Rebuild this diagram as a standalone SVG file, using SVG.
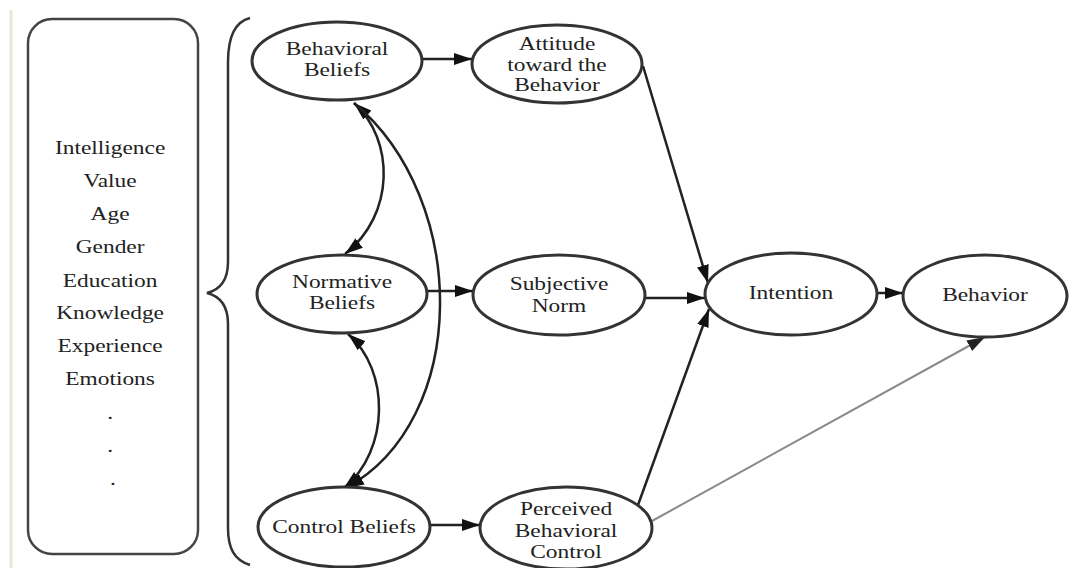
<svg xmlns="http://www.w3.org/2000/svg" width="1070" height="568" viewBox="0 0 1070 568">
  <style>
    .t { font-family: "Liberation Serif", "DejaVu Serif", serif; font-size: 18px; fill: #222; text-anchor: middle; }
    .node { fill: #fff; stroke: #333; stroke-width: 3; }
    .edge { fill: none; stroke: #222; stroke-width: 2.5; }
    .edge-gray { fill: none; stroke: #8a8a8a; stroke-width: 2; }
    .frame { fill: #fff; stroke: #444; stroke-width: 2.5; }
  </style>
  <defs>
    <marker id="arrow" markerUnits="userSpaceOnUse" markerWidth="20" markerHeight="14" refX="18" refY="7" orient="auto-start-reverse" viewBox="0 0 20 14">
      <path d="M0,1 L18,7 L0,13 Z" fill="#111"/>
    </marker>
    <marker id="arrow-gray" markerUnits="userSpaceOnUse" markerWidth="20" markerHeight="14" refX="18" refY="7" orient="auto" viewBox="0 0 20 14">
      <path d="M0,1 L18,7 L0,13 Z" fill="#222"/>
    </marker>
  </defs>

  <rect width="1070" height="568" fill="#fff"/>
  <!-- page margin rule -->
  <line x1="11" y1="10" x2="11" y2="568" stroke="#ebe6d6" stroke-width="3"/>

  <!-- background factors panel -->
  <g id="background-factors">
    <rect class="frame" x="28" y="19" width="170" height="535" rx="24" ry="24"/>
    <text class="t" transform="translate(113,0) scale(1.3,1)">
      <tspan x="0" y="154">Intelligence</tspan>
      <tspan x="0" y="187">Value</tspan>
      <tspan x="0" y="220">Age</tspan>
      <tspan x="0" y="253">Gender</tspan>
      <tspan x="0" y="287">Education</tspan>
      <tspan x="0" y="319">Knowledge</tspan>
      <tspan x="0" y="352">Experience</tspan>
      <tspan x="0" y="385">Emotions</tspan>
      <tspan x="0" y="419">.</tspan>
      <tspan x="0" y="452">.</tspan>
      <tspan x="0" y="485">.</tspan>
    </text>
  </g>

  <!-- curly brace -->
  <g id="brace">
    <path d="M250,18 C234,22 228,40 228,62 L228,262 C228,282 219,290 207,293 C219,296 228,304 228,324 L228,528 C228,548 234,560 250,565" fill="none" stroke="#333" stroke-width="2.5"/>
  </g>

  <!-- connectors -->
  <g id="connectors">
    <path class="edge" d="M423,59 L472,59" marker-end="url(#arrow)"/>
    <path class="edge" d="M428,291 L473,291" marker-end="url(#arrow)"/>
    <path class="edge" d="M430,525 L480,525" marker-end="url(#arrow)"/>
    <path class="edge" d="M645,298 L705,298" marker-end="url(#arrow)"/>
    <path class="edge" d="M877,293 L903,293" marker-end="url(#arrow)"/>
    <path class="edge" d="M643,66 L708,283" marker-end="url(#arrow)"/>
    <path class="edge" d="M638,505 L709,309" marker-end="url(#arrow)"/>
    <path class="edge-gray" d="M652,521 L985,337" marker-end="url(#arrow-gray)"/>
    <!-- correlations among belief nodes -->
    <path class="edge" d="M354,103 C395,140 395,215 345,254" marker-start="url(#arrow)" marker-end="url(#arrow)"/>
    <path class="edge" d="M354,103 C470,200 470,420 346,488" marker-end="url(#arrow)"/>
    <path class="edge" d="M348,334 C390,370 390,450 344,488" marker-start="url(#arrow)" marker-end="url(#arrow)"/>
  </g>

  <g id="behavioral-beliefs">
    <ellipse class="node" cx="337" cy="61" rx="85" ry="39"/>
    <text class="t" transform="translate(337,0) scale(1.3,1)"><tspan x="0" y="55">Behavioral</tspan><tspan x="0" y="76">Beliefs</tspan></text>
  </g>
  <g id="attitude">
    <ellipse class="node" cx="557" cy="64" rx="85" ry="39"/>
    <text class="t" transform="translate(557,0) scale(1.3,1)"><tspan x="0" y="50">Attitude</tspan><tspan x="0" y="71">toward the</tspan><tspan x="0" y="91">Behavior</tspan></text>
  </g>
  <g id="normative-beliefs">
    <ellipse class="node" cx="342" cy="294" rx="85" ry="39"/>
    <text class="t" transform="translate(342,0) scale(1.3,1)"><tspan x="0" y="288">Normative</tspan><tspan x="0" y="309">Beliefs</tspan></text>
  </g>
  <g id="subjective-norm">
    <ellipse class="node" cx="559" cy="295" rx="86" ry="40"/>
    <text class="t" transform="translate(559,0) scale(1.3,1)"><tspan x="0" y="290">Subjective</tspan><tspan x="0" y="312">Norm</tspan></text>
  </g>
  <g id="control-beliefs">
    <ellipse class="node" cx="344" cy="527" rx="86" ry="40"/>
    <text class="t" transform="translate(344,0) scale(1.3,1)"><tspan x="0" y="533">Control Beliefs</tspan></text>
  </g>
  <g id="perceived-behavioral-control">
    <ellipse class="node" cx="566" cy="528" rx="86" ry="41"/>
    <text class="t" transform="translate(566,0) scale(1.3,1)"><tspan x="0" y="515">Perceived</tspan><tspan x="0" y="537">Behavioral</tspan><tspan x="0" y="558">Control</tspan></text>
  </g>
  <g id="intention">
    <ellipse class="node" cx="791" cy="294" rx="86" ry="41"/>
    <text class="t" transform="translate(791,0) scale(1.3,1)"><tspan x="0" y="299">Intention</tspan></text>
  </g>
  <g id="behavior">
    <ellipse class="node" cx="985" cy="296" rx="82" ry="41"/>
    <text class="t" transform="translate(985,0) scale(1.3,1)"><tspan x="0" y="301">Behavior</tspan></text>
  </g>
</svg>
